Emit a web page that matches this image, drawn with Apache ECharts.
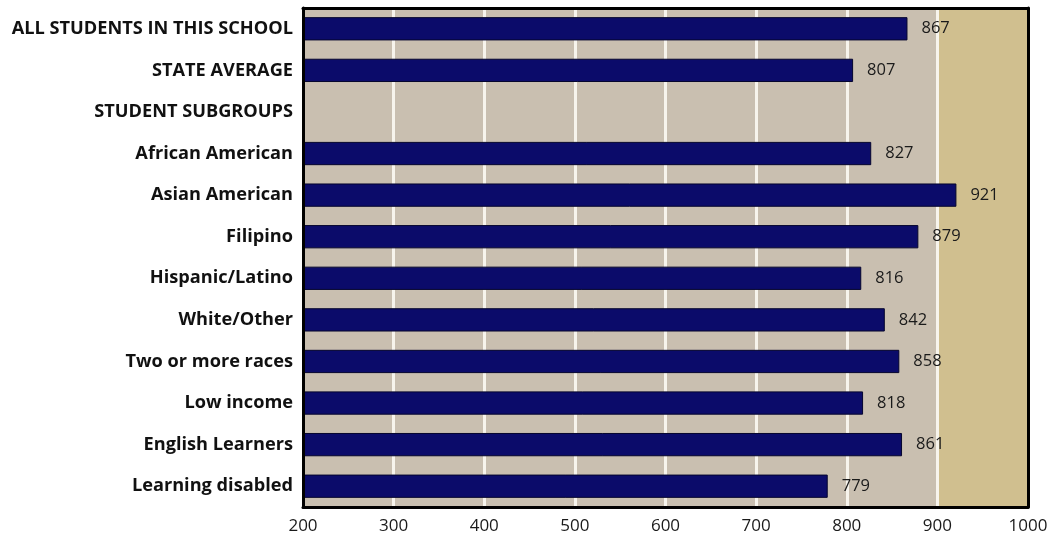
<!DOCTYPE html>
<html>
<head>
<meta charset="utf-8">
<script src="https://cdn.jsdelivr.net/npm/echarts@6/dist/echarts.min.js"></script>
<style>
html,body{margin:0;padding:0;background:#fff;}
#chart{width:1054px;height:540px;}
</style>
</head>
<body>
<div id="chart"></div>
<script>
const categories = [
  "ALL STUDENTS IN THIS SCHOOL",
  "STATE AVERAGE",
  "STUDENT SUBGROUPS",
  "African American",
  "Asian American",
  "Filipino",
  "Hispanic/Latino",
  "White/Other",
  "Two or more races",
  "Low income",
  "English Learners",
  "Learning disabled"
];
const scores = [867, 807, null, 827, 921, 879, 816, 842, 858, 818, 861, 779];
const axisMin = 200;
const axisMax = 1000;
const axisStep = 100;
const highlightStart = 900;

const frameLine = { show: true, onZero: false, lineStyle: { color: '#000000', width: 3 } };
const split = (highlightStart - axisMin) / (axisMax - axisMin);
const baseColor = '#c9bfb0';
const goldColor = '#d0bf8f';

const chart = echarts.init(document.getElementById('chart'));
chart.setOption({
  animation: false,
  backgroundColor: '#ffffff',
  grid: {
    left: 303, right: 26, top: 8, bottom: 33,
    show: true,
    backgroundColor: new echarts.graphic.LinearGradient(0, 0, 1, 0, [
      { offset: 0, color: baseColor },
      { offset: split, color: baseColor },
      { offset: split, color: goldColor },
      { offset: 1, color: goldColor }
    ]),
    borderWidth: 0
  },
  xAxis: [{
    type: 'value',
    min: axisMin, max: axisMax, interval: axisStep,
    position: 'bottom',
    axisLine: frameLine,
    axisTick: { show: false },
    splitLine: { show: false },
    axisLabel: {
      fontFamily: 'Open Sans', fontSize: 17, color: '#1a1a1a', margin: 11,
      formatter: v => String(v)
    },
    z: 10
  }, {
    type: 'value',
    min: axisMin, max: axisMax, interval: axisStep,
    position: 'top',
    axisLine: frameLine,
    axisTick: { show: false },
    axisLabel: { show: false },
    splitLine: { show: false },
    z: 10
  }, {
    type: 'value',
    min: axisMin, max: axisMax, interval: axisStep,
    position: 'bottom',
    axisLine: { show: false },
    axisTick: { show: false },
    axisLabel: { show: false },
    splitLine: { show: true, lineStyle: { color: '#f7f4ec', width: 3 } },
    z: 1
  }],
  yAxis: [{
    type: 'category',
    data: categories,
    inverse: true,
    position: 'left',
    axisLine: frameLine,
    axisTick: { show: false },
    splitLine: { show: false },
    axisLabel: {
      fontFamily: 'Open Sans', fontWeight: 'bold', fontSize: 18.2, color: '#111111', margin: 10
    },
    z: 10
  }, {
    type: 'category',
    data: categories,
    inverse: true,
    position: 'right',
    axisLine: frameLine,
    axisTick: { show: false },
    axisLabel: { show: false },
    splitLine: { show: false },
    z: 10
  }],
  series: [{
    type: 'bar',
    xAxisIndex: 0,
    yAxisIndex: 0,
    data: scores,
    barWidth: '56%',
    itemStyle: { color: '#0b0b6a', borderColor: '#05052e', borderWidth: 1 },
    label: {
      show: true, position: 'right', distance: 14,
      fontFamily: 'Open Sans', fontSize: 16.5, color: '#1a1a1a'
    },
    z: 3
  }]
});
</script>
</body>
</html>
